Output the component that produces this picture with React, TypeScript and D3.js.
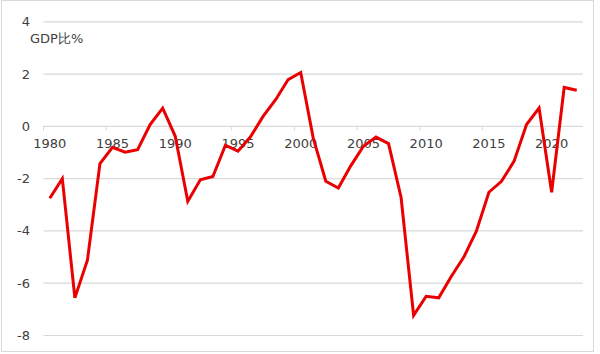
import React from "react";
import * as d3 from "d3";

const years: number[] = d3.range(1980, 2023);
const values: number[] = [
  -2.75, -2.0, -6.56, -5.12, -1.42, -0.8, -0.99, -0.89, 0.07, 0.7,
  -0.38, -2.87, -2.04, -1.92, -0.72, -0.95, -0.4, 0.38, 1.02, 1.79,
  2.06, -0.45, -2.1, -2.36, -1.5, -0.76, -0.41, -0.66, -2.72, -7.23,
  -6.5, -6.56, -5.74, -5.0, -4.01, -2.52, -2.1, -1.34, 0.07, 0.7,
  -2.52, 1.49, 1.38,
];
const yTicks: number[] = [4, 2, 0, -2, -4, -6, -8];
const xLabelYears: number[] = [1980, 1985, 1990, 1995, 2000, 2005, 2010, 2015, 2020];
const unitLabel = "GDP比%";

export default function App() {
  const W = 600, H = 354;
  const left = 43.5, right = 583;
  const x = d3.scaleBand<number>().domain(years).range([left, right]).padding(0);
  const y = d3.scaleLinear().domain([-8, 4]).range([335.5, 21.8]);
  const cx = (yr: number) => (x(yr) as number) + x.bandwidth() / 2;
  const line = d3.line<number>().x((_, i) => cx(years[i])).y((v) => y(v));
  const font = "'DejaVu Sans', Verdana, sans-serif";
  const tickBoundaries = xLabelYears.map((yr) => x(yr) as number);
  tickBoundaries.unshift(left);
  return (
    <svg width={W} height={H} style={{ position: "absolute", left: 0, top: 0, background: "#fff" }}>
      <rect x={1.5} y={0.5} width={592} height={351} fill="#fff" stroke="#d9d9d9" strokeWidth={1} />
      {yTicks.map((t) => (
        <g key={t}>
          <line x1={left} x2={right} y1={y(t)} y2={y(t)} stroke="#d9d9d9" strokeWidth={1.2} />
          <text x={30} y={y(t)} dy="0.35em" textAnchor="end" fontFamily={font} fontSize={13} fill="#404040">
            {t}
          </text>
        </g>
      ))}
      {tickBoundaries.map((bx, i) => (
        <line key={i} x1={bx} x2={bx} y1={y(0)} y2={y(0) + 4} stroke="#d9d9d9" strokeWidth={1} />
      ))}
      {xLabelYears.map((yr) => (
        <text key={yr} x={cx(yr)} y={143} dy="0.35em" textAnchor="middle" fontFamily={font} fontSize={13} fill="#404040">
          {yr}
        </text>
      ))}
      <text x={30} y={38} dy="0.35em" fontFamily={font} fontSize={13} fill="#404040">
        {unitLabel}
      </text>
      <path d={line(values) || ""} fill="none" stroke="#ea0000" strokeWidth={3} strokeLinejoin="miter" />
    </svg>
  );
}
